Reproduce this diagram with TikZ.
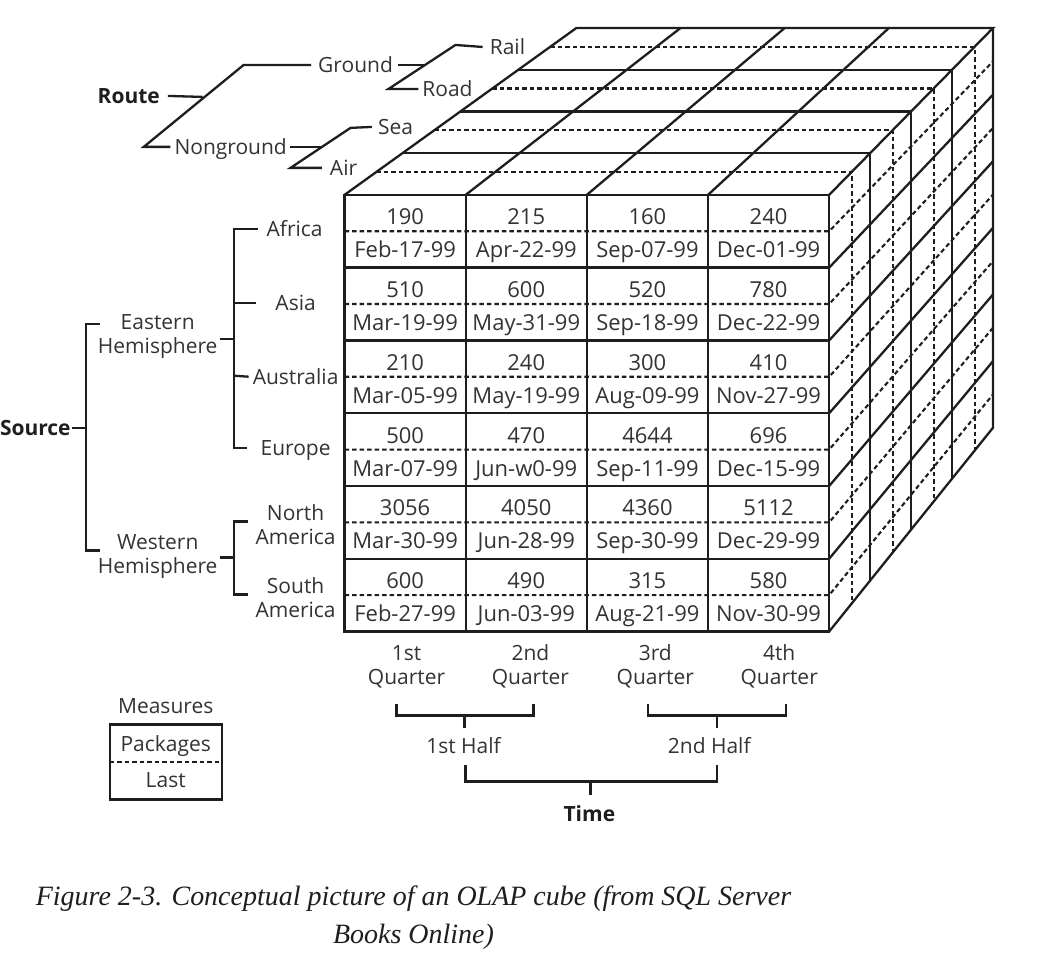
\documentclass[tikz,border=0pt]{standalone}
\usepackage{fontspec}
\setmainfont{Open Sans}
\newfontfamily\capfont{Liberation Serif}
\usepackage{tikz}
\usetikzlibrary{calc, positioning}
\definecolor{inkline}{HTML}{1E1E1E}
\definecolor{inktext}{HTML}{333333}

\begin{document}
\begin{tikzpicture}[x=1pt, y=-1pt, line width=2.3pt, draw=inkline,
    dashline/.style={line width=2.1pt, dash pattern=on 4.5pt off 3pt},
    lbl/.style={font=\fontsize{21}{24}\selectfont, text=inktext, inner sep=0pt,
        align=center, text height=15pt, text depth=0pt},
    twoline/.style={font=\fontsize{21}{24}\selectfont, text=inktext, inner sep=0pt,
        align=center},
    hdr/.style={lbl, font=\fontsize{21}{24}\selectfont\bfseries, text=inkline},
    cellnum/.style={font=\fontsize{22}{24}\selectfont, text=inktext, inner sep=0pt, anchor=base}]

    % Page
    \path[fill=white] (0,0) rectangle (1050,964);

    % Cube corners (front face, then the back edges that show)
    \coordinate (ftl) at (344,195);
    \coordinate (ftr) at (829,195);
    \coordinate (fbl) at (344,632);
    \coordinate (fbr) at (829,632);
    \coordinate (btl) at (576,28);
    \coordinate (btr) at (993,28);
    \coordinate (bbr) at (993,428);

    % Front face grid
    \draw (ftl) rectangle (fbr);
    \foreach \cl in {1,2,3}
        \draw ($(ftl)!\cl/4!(ftr)$) -- ($(fbl)!\cl/4!(fbr)$);
    \foreach \rw in {1,...,5}
        \draw ($(ftl)!\rw/6!(fbl)$) -- ($(ftr)!\rw/6!(fbr)$);

    % Top face grid
    \draw (ftl) -- (btl) -- (btr) -- (ftr);
    \foreach \k in {1,2,3}
        \draw ($(ftl)!\k/4!(btl)$) -- ($(ftr)!\k/4!(btr)$);
    \foreach \cl in {1,2,3}
        \draw ($(ftl)!\cl/4!(ftr)$) -- ($(btl)!\cl/4!(btr)$);

    % Right face grid
    \draw (btr) -- (bbr) -- (fbr);
    \foreach \k in {1,2,3}
        \draw ($(ftr)!\k/4!(btr)$) -- ($(fbr)!\k/4!(bbr)$);
    \foreach \rw in {1,...,5}
        \draw ($(ftr)!\rw/6!(fbr)$) -- ($(btr)!\rw/6!(bbr)$);

    % Dashed splits: route slices (top and right), measures rows (front and right)
    \foreach \k [evaluate=\k as \t using (\k+0.55)/4] in {0,...,3}
        \draw[dashline] ($(ftl)!\t!(btl)$) -- ($(ftr)!\t!(btr)$) -- ($(fbr)!\t!(bbr)$);
    \foreach \rw [evaluate=\rw as \s using (\rw+0.5)/6] in {0,...,5}
        \draw[dashline] ($(ftl)!\s!(fbl)$) -- ($(ftr)!\s!(fbr)$) -- ($(btr)!\s!(bbr)$);

    % Cell values and last dates
    \foreach \row [count=\rw from 0] in {
        {190/Feb-17-99, 215/Apr-22-99, 160/Sep-07-99, 240/Dec-01-99},
        {510/Mar-19-99, 600/May-31-99, 520/Sep-18-99, 780/Dec-22-99},
        {210/Mar-05-99, 240/May-19-99, 300/Aug-09-99, 410/Nov-27-99},
        {500/Mar-07-99, 470/Jun-w0-99, 4644/Sep-11-99, 696/Dec-15-99},
        {3056/Mar-30-99, 4050/Jun-28-99, 4360/Sep-30-99, 5112/Dec-29-99},
        {600/Feb-27-99, 490/Jun-03-99, 315/Aug-21-99, 580/Nov-30-99}} {
        \foreach \amt/\dte [count=\cl from 0] in \row {
            \node[cellnum] (amt\rw\cl) at (404.6+121.25*\cl, 225+72.83*\rw) {\amt};
            \node[cellnum] (dte\rw\cl) at (404.6+121.25*\cl, 258+72.83*\rw) {\dte};
        }
    }

    % Route hierarchy
    \node[hdr] (route) at (128,96) {Route};
    \node[lbl] (ground) at (355,65) {Ground};
    \node[lbl] (nonground) at (230,147) {Nonground};
    \node[lbl] (rail) at (507,47) {Rail};
    \node[lbl] (road) at (447,89) {Road};
    \node[lbl] (sea) at (395,127) {Sea};
    \node[lbl] (air) at (343,168) {Air};
    \coordinate (routeknee) at (202,97);
    \coordinate (groundknee) at (424,65);
    \coordinate (nongroundknee) at (321,147);
    \draw ([xshift=7pt]route.east) -- (routeknee);
    \draw ([xshift=-3pt]nonground.west) -- (143,147) -- (243,65) -- ([xshift=-6pt]ground.west);
    \draw ([xshift=4pt]ground.east) -- (groundknee);
    \draw ([xshift=-3pt]road.west) -- (388,89) -- (455,45) -- ([xshift=-6pt]rail.west);
    \draw ([xshift=2pt]nonground.east) -- (nongroundknee);
    \draw ([xshift=-7pt]air.west) -- (290,168) -- (350,128) -- ([xshift=-5pt]sea.west);

    % Source hierarchy
    \node[hdr, anchor=east] (source) at (71,428) {Source};
    \node[twoline] (eastern) at (157,337) {Eastern\\Hemisphere};
    \node[twoline] (western) at (157,557) {Western\\Hemisphere};
    \node[lbl] (africa) at (294,229) {Africa};
    \node[lbl] (asia) at (295,303) {Asia};
    \node[lbl] (australia) at (295,377) {Australia};
    \node[lbl] (europe) at (295,448) {Europe};
    \node[twoline] (namerica) at (295,525) {North\\America};
    \node[twoline] (samerica) at (295,598) {South\\America};
    \coordinate (sourceknee) at (85,428);
    \draw (source.east) -- (sourceknee);
    \draw (99,324) -- (85,324) -- (85,551) -- (99,551);
    \draw ([xshift=1pt]eastern.east |- 0,339) -- (233,339);
    \draw ([xshift=-8pt]africa.west) -- (233,229) -- (233,448) -- ([xshift=-12pt]europe.west);
    \draw (233,303) -- ([xshift=-18pt]asia.west);
    \draw (233,376) -- ([xshift=-3pt]australia.west);
    \draw ([xshift=1pt]western.east |- 0,558) -- (233,558);
    \draw (247,522) -- (233,522) -- (233,595) -- (247,595);

    % Time hierarchy
    \node[twoline] (q1) at (406,667) {1st\\Quarter};
    \node[twoline] (q2) at (530,667) {2nd\\Quarter};
    \node[twoline] (q3) at (655,667) {3rd\\Quarter};
    \node[twoline] (q4) at (779,667) {4th\\Quarter};
    \node[lbl] (half1) at (463,747) {1st Half};
    \node[lbl] (half2) at (709,747) {2nd Half};
    \node[hdr] (time) at (589,815) {Time};
    \coordinate (half1tick) at (464,729);
    \coordinate (half2tick) at (717,729);
    \coordinate (timetick) at (590,796);
    \draw (396,705) -- (396,716) -- (533,716) -- (533,705);
    \draw (464,716) -- (half1tick);
    \draw (648,705) -- (648,716) -- (786,716) -- (786,705);
    \draw (717,716) -- (half2tick);
    \draw (465,766) -- (465,782) -- (717,782) -- (717,766);
    \draw (590,782) -- (timetick);

    % Measures legend
    \node[lbl] (measures) at (165,707) {Measures};
    \draw (109,725) rectangle (221,800);
    \draw[dashline] (109,763) -- (221,763);
    \node[lbl] (packages) at (165,745) {Packages};
    \node[lbl] (last) at (165,781) {Last};

    % Caption
    \node[font=\capfont\itshape\fontsize{28}{38}\selectfont, text=inkline, align=center,
        inner sep=0pt] (caption) at (413,918)
        {Figure 2-3. Conceptual picture of an OLAP cube (from SQL Server\\Books Online)};

\end{tikzpicture}
\end{document}
